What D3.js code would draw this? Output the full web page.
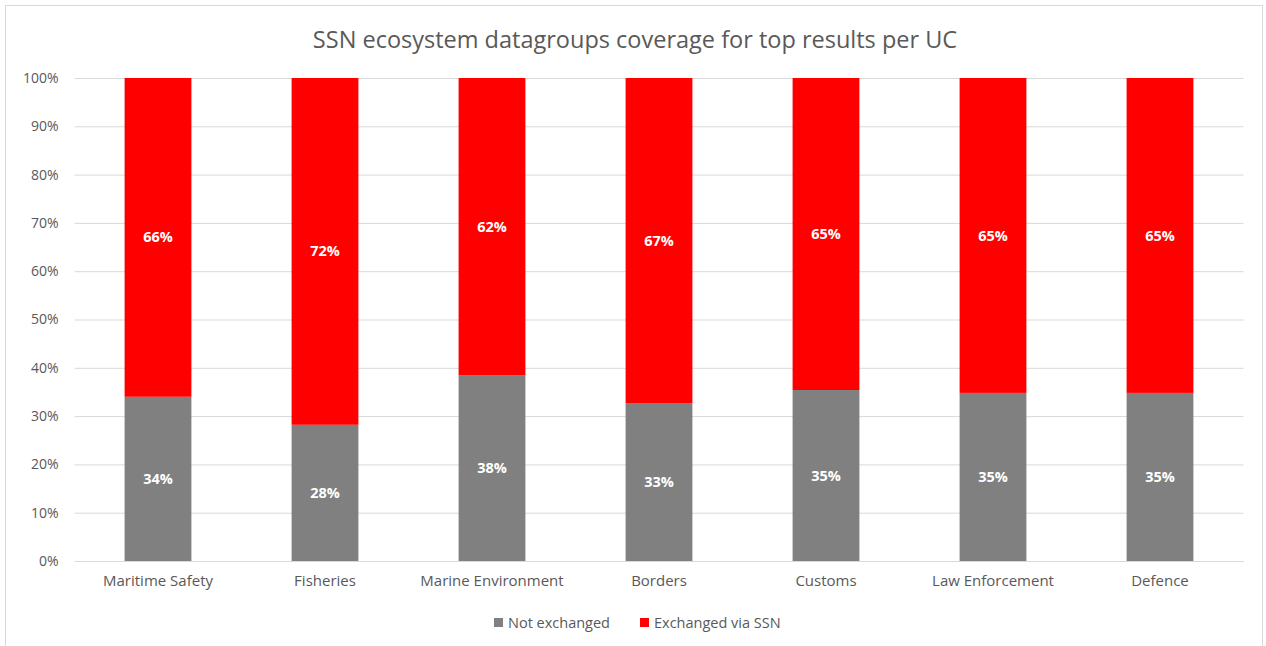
<!DOCTYPE html>
<html><head><meta charset="utf-8">
<script src="https://cdn.jsdelivr.net/npm/d3@7"></script>
<style>body{margin:0;background:#fff}svg{display:block}text{font-family:"Open Sans","Liberation Sans",sans-serif}</style>
</head><body><svg id="c" width="1266" height="646"></svg>
<script>
const categories = ["Maritime Safety","Fisheries","Marine Environment","Borders","Customs","Law Enforcement","Defence"];
const notExchanged = [34, 28.2, 38.4, 32.7, 35.4, 34.8, 34.8];
const exchanged = [66, 71.8, 61.6, 67.3, 64.6, 65.2, 65.2];
const notExchangedLabels = ["34%","28%","38%","33%","35%","35%","35%"];
const exchangedLabels = ["66%","72%","62%","67%","65%","65%","65%"];
const yTicks = [0,10,20,30,40,50,60,70,80,90,100];
const seriesNames = ["Not exchanged","Exchanged via SSN"];
const colors = ["#808080","#FF0000"];

const svg = d3.select("#c");
svg.append("rect").attr("x",5.5).attr("y",5.5).attr("width",1257).attr("height",650).attr("fill","#fff").attr("stroke","#d9d9d9");
const L=74.5,R=1243.5,T=78,B=561;
const x = d3.scaleBand().domain(categories).range([L,R]).paddingInner(0.6).paddingOuter(0.3);
const y = d3.scaleLinear().domain([0,100]).range([B,T]);

svg.append("text").attr("x",635).attr("y",48).attr("text-anchor","middle").attr("font-size",23.5).attr("fill","#595959").text("SSN ecosystem datagroups coverage for top results per UC");

const gy = svg.append("g").attr("transform",`translate(${L},0)`).call(d3.axisLeft(y).tickValues(yTicks).tickSize(-(R-L)).tickFormat(d=>d+"%"));
gy.select(".domain").remove();
gy.selectAll(".tick line").attr("stroke","#d9d9d9");
gy.selectAll(".tick text").attr("x",-16).attr("font-size",14).attr("fill","#595959");

const gx = svg.append("g").attr("transform",`translate(0,${B})`).call(d3.axisBottom(x).tickSize(0));
gx.select(".domain").attr("stroke","#d9d9d9");
gx.selectAll(".tick text").attr("dy","1.45em").attr("font-size",15).attr("fill","#595959");

const data = categories.map((c,i)=>({c, a:notExchanged[i], b:exchanged[i], la:notExchangedLabels[i], lb:exchangedLabels[i]}));
const g = svg.append("g");
g.selectAll(".ga").data(data).join("rect").attr("x",d=>x(d.c)).attr("width",x.bandwidth()).attr("y",d=>y(d.a)).attr("height",d=>y(0)-y(d.a)).attr("fill",colors[0]);
g.selectAll(".gb").data(data).join("rect").attr("x",d=>x(d.c)).attr("width",x.bandwidth()).attr("y",d=>y(d.a+d.b)).attr("height",d=>y(d.a)-y(d.a+d.b)).attr("fill",colors[1]);
g.selectAll(".la").data(data).join("text").attr("x",d=>x(d.c)+x.bandwidth()/2).attr("y",d=>y(d.a/2)).attr("dy","0.35em").attr("text-anchor","middle").attr("font-size",14.5).attr("font-weight","bold").attr("fill","#fff").text(d=>d.la);
g.selectAll(".lb").data(data).join("text").attr("x",d=>x(d.c)+x.bandwidth()/2).attr("y",d=>y(d.a+d.b/2)).attr("dy","0.35em").attr("text-anchor","middle").attr("font-size",14.5).attr("font-weight","bold").attr("fill","#fff").text(d=>d.lb);

const leg = svg.append("g");
const lx=[494,640];
seriesNames.forEach((n,i)=>{
  leg.append("rect").attr("x",lx[i]).attr("y",618).attr("width",9).attr("height",9).attr("fill",colors[i]);
  leg.append("text").attr("x",lx[i]+14).attr("y",622.5).attr("dy","0.35em").attr("font-size",14.5).attr("fill","#595959").text(n);
});
</script></body></html>
